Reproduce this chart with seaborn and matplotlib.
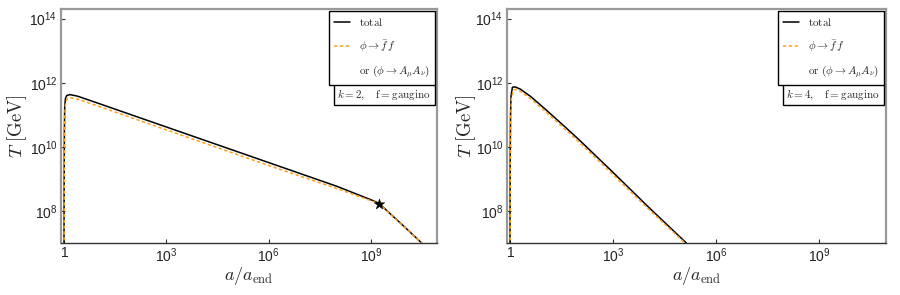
import numpy as np
import pandas as pd
import matplotlib
matplotlib.use("Agg")
import matplotlib.pyplot as plt
import seaborn as sns

# curves, stored as log10 values
# k = 2 panel
k2_total_loga = [0.0, 0.005, 0.012, 0.02, 0.04, 0.08, 0.17, 0.4, 1, 2, 3, 4, 5, 6, 7, 8, 9, 9.24, 9.5, 10.0, 10.5]
k2_total_logT = [6.9, 9.0, 10.5, 11.2, 11.5, 11.6, 11.63, 11.58, 11.36, 10.99, 10.62, 10.25, 9.88, 9.51, 9.14, 8.77, 8.35, 8.24, 7.98, 7.49, 6.99]
k2_ff_loga = [0.002, 0.008, 0.016, 0.025, 0.05, 0.1, 0.2, 0.4, 1, 2, 3, 4, 5, 6, 7, 8, 9, 9.24, 9.5, 10.0, 10.5]
k2_ff_logT = [6.9, 9.0, 10.4, 11.05, 11.4, 11.5, 11.53, 11.49, 11.27, 10.9, 10.53, 10.16, 9.79, 9.42, 9.06, 8.7, 8.32, 8.23, 7.97, 7.48, 6.99]
k2_star_loga = [9.24]
k2_star_logT = [8.23]

# k = 4 panel
k4_total_loga = [0.0, 0.005, 0.015, 0.03, 0.07, 0.15, 0.3, 0.6, 1.0, 1.5, 2, 3, 4, 5.13]
k4_total_logT = [6.9, 9.5, 11.0, 11.6, 11.86, 11.87, 11.8, 11.57, 11.2, 10.72, 10.23, 9.2, 8.15, 7.0]
k4_ff_loga = [0.003, 0.01, 0.02, 0.04, 0.1, 0.18, 0.3, 0.6, 1.0, 1.5, 2, 3, 4, 5.12]
k4_ff_logT = [6.9, 9.5, 10.9, 11.5, 11.78, 11.79, 11.73, 11.5, 11.13, 10.65, 10.16, 9.13, 8.09, 6.97]

panel_labels = [r"$k=2,\quad \mathrm{f}=\mathrm{gaugino}$", r"$k=4,\quad \mathrm{f}=\mathrm{gaugino}$"]
legend_labels = [r"$\mathrm{total}$", r"$\phi \to \bar{f}\,f$", r"$\mathrm{or}\ (\phi \to A_\mu A_\nu)$"]

xtick_vals = [1, 1e3, 1e6, 1e9]
xtick_labels = [r"$\mathdefault{1}$", r"$\mathdefault{10^{3}}$", r"$\mathdefault{10^{6}}$", r"$\mathdefault{10^{9}}$"]
ytick_vals = [1e8, 1e10, 1e12, 1e14]
ytick_labels = [r"$\mathdefault{10^{8}}$", r"$\mathdefault{10^{10}}$", r"$\mathdefault{10^{12}}$", r"$\mathdefault{10^{14}}$"]

sns.set_style("ticks")
plt.rcParams['font.family'] = ['Liberation Sans', 'DejaVu Sans']
plt.rcParams['mathtext.fontset'] = 'cm'

orange = '#ff9f1c'
spine_gray = '#999999'

fig = plt.figure(figsize=(9, 2.95), dpi=100)
ax_pos = [[61 / 900, 52 / 295, 376 / 900, 234 / 295],
          [507 / 900, 52 / 295, 379 / 900, 234 / 295]]
ylabel_x = [-0.085, -0.076]

panels = [
    (k2_total_loga, k2_total_logT, k2_ff_loga, k2_ff_logT),
    (k4_total_loga, k4_total_logT, k4_ff_loga, k4_ff_logT),
]

for i, (ta, tT, fa, fT) in enumerate(panels):
    ax = fig.add_axes(ax_pos[i])
    df_tot = pd.DataFrame({'a': 10 ** np.array(ta), 'T': 10 ** np.array(tT)})
    df_ff = pd.DataFrame({'a': 10 ** np.array(fa), 'T': 10 ** np.array(fT)})

    sns.lineplot(data=df_tot, x='a', y='T', ax=ax, color='black', linewidth=1.1,
                 label=legend_labels[0], sort=False, estimator=None)
    sns.lineplot(data=df_ff, x='a', y='T', ax=ax, color=orange, linewidth=1.1,
                 linestyle=(0, (2.2, 1.6)), label=legend_labels[1], sort=False, estimator=None)
    # empty entry for the second line of the legend label
    ax.plot([], [], color='none', label=legend_labels[2])

    if i == 0:
        sns.scatterplot(x=10 ** np.array(k2_star_loga), y=10 ** np.array(k2_star_logT), ax=ax,
                        marker='*', s=65, color='black', edgecolor='black', linewidth=0.3, zorder=5)

    ax.set_xscale('log')
    ax.set_yscale('log')
    ax.set_xlim(10 ** -0.088, 10 ** 10.94)
    ax.set_ylim(1e7, 10 ** 14.3)
    ax.set_xticks(xtick_vals)
    ax.set_xticklabels(xtick_labels)
    ax.set_yticks(ytick_vals)
    ax.set_yticklabels(ytick_labels)
    ax.minorticks_off()
    ax.tick_params(direction='in', length=3, width=0.8, color='#333333', labelsize=10,
                   labelcolor='#222222', pad=2.5)

    for side in ['top', 'right', 'left']:
        ax.spines[side].set_color(spine_gray)
        ax.spines[side].set_linewidth(1.6)
    ax.spines['bottom'].set_color('#333333')
    ax.spines['bottom'].set_linewidth(1.0)

    ax.set_xlabel(r"$a/a_{\rm end}$", fontsize=13)
    ax.set_ylabel(r"$T\ [\mathrm{GeV}]$", fontsize=13.5)
    ax.xaxis.set_label_coords(0.5, -0.095)
    ax.yaxis.set_label_coords(ylabel_x[i], 0.5)

    leg = ax.legend(loc='upper right', bbox_to_anchor=(0.995, 0.99), borderaxespad=0,
                    fontsize=8, labelspacing=0.85, handlelength=1.5, handletextpad=0.8,
                    borderpad=0.45, fancybox=False, framealpha=1, edgecolor='black')
    leg.get_frame().set_linewidth(1.0)

    ax.text(0.985, 0.665, panel_labels[i], transform=ax.transAxes, ha='right', va='top',
            fontsize=8, bbox=dict(boxstyle='square,pad=0.3', facecolor='white',
                                  edgecolor='black', linewidth=1.0))

fig.savefig("out.png", dpi=100)
